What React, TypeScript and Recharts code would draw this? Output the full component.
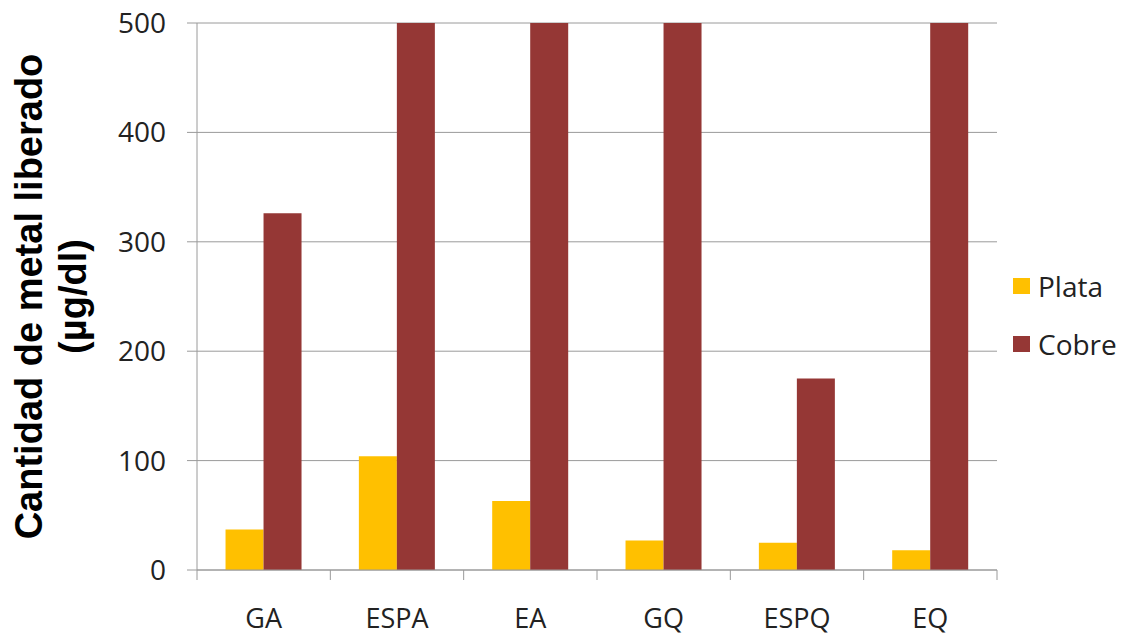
import React from 'react'
import { BarChart, Bar, XAxis, YAxis, CartesianGrid } from 'recharts'

// metal released per sample type (µg/dl)
const muestras = ['GA', 'ESPA', 'EA', 'GQ', 'ESPQ', 'EQ']
const plata = [37, 104, 63, 27, 25, 18]
const cobre = [326, 500, 500, 500, 175, 500]
const yTicks = [0, 100, 200, 300, 400, 500]

const series = [
  { key: 'plata', name: 'Plata', color: '#FFC000' },
  { key: 'cobre', name: 'Cobre', color: '#953735' },
]

const chartData = muestras.map((m, i) => ({
  muestra: m,
  plata: plata[i],
  cobre: cobre[i],
}))

const AXIS_GRAY = '#9a9a9a'
const TEXT = '#222222'
const TICK_FONT = '"Open Sans", sans-serif'
const TICK_LEN = 10
const TICK_GAP = 29

// category label plus tick marks on the category boundaries
const CategoryTick = (props: any) => {
  const { x, y, payload, index } = props
  const half = payload.offset ?? 800 / muestras.length / 2
  const y1 = y - TICK_GAP - TICK_LEN
  const y2 = y - TICK_GAP
  return (
    <g>
      <line x1={x - half} x2={x - half} y1={y1} y2={y2} stroke={AXIS_GRAY} />
      {index === muestras.length - 1 && (
        <line x1={x + half} x2={x + half} y1={y1} y2={y2} stroke={AXIS_GRAY} />
      )}
      <text
        x={x}
        y={y}
        dy="0.71em"
        textAnchor="middle"
        fill={TEXT}
        fontSize={27}
        fontFamily={TICK_FONT}
      >
        {payload.value}
      </text>
    </g>
  )
}

const AxisTitle = (props: any) => {
  const vb = props.viewBox || { y: 23, height: 547 }
  const cy = vb.y + vb.height / 2
  const bx = 42
  return (
    <text
      transform={`rotate(-90, ${bx}, ${cy})`}
      x={bx}
      y={cy}
      textAnchor="middle"
      fill="#000"
      fontSize={38}
      fontWeight="bold"
      fontFamily='"Liberation Sans", Arial, sans-serif'
    >
      <tspan x={bx} dy={0}>Cantidad de metal liberado</tspan>
      <tspan x={bx} dy={44}>(µg/dl)</tspan>
    </text>
  )
}

const LegendBox = () => (
  <div
    style={{
      position: 'absolute',
      left: 1013,
      top: 257,
      fontFamily: TICK_FONT,
      fontSize: 28,
      color: TEXT,
    }}
  >
    {series.map((s) => (
      <div key={s.key} style={{ display: 'flex', alignItems: 'center', height: 58 }}>
        <span style={{ width: 17, height: 16, background: s.color, marginRight: 8 }} />
        <span>{s.name}</span>
      </div>
    ))}
  </div>
)

export default function App() {
  return (
    <div style={{ position: 'absolute', left: 0, top: 0, width: 1123, height: 637, background: '#fff' }}>
      <BarChart
        width={1123}
        height={637}
        data={chartData}
        margin={{ top: 23, right: 126, left: 0, bottom: 0 }}
        barCategoryGap="21.4%"
        barGap={0}
      >
        <CartesianGrid vertical={false} stroke={AXIS_GRAY} />
        <XAxis
          dataKey="muestra"
          height={67}
          axisLine={{ stroke: AXIS_GRAY }}
          tickLine={false}
          tickSize={TICK_LEN}
          tickMargin={TICK_GAP}
          tick={<CategoryTick />}
          interval={0}
        />
        <YAxis
          width={197}
          domain={[0, 500]}
          ticks={yTicks}
          allowDataOverflow
          axisLine={{ stroke: AXIS_GRAY }}
          tickLine={{ stroke: AXIS_GRAY }}
          tickSize={10}
          tickMargin={21}
          tick={{ fill: TEXT, fontSize: 28, fontFamily: TICK_FONT }}
          label={{ content: <AxisTitle /> }}
        />
        {series.map((s) => (
          <Bar key={s.key} dataKey={s.key} name={s.name} fill={s.color} isAnimationActive={false} />
        ))}
      </BarChart>
      <LegendBox />
    </div>
  )
}
